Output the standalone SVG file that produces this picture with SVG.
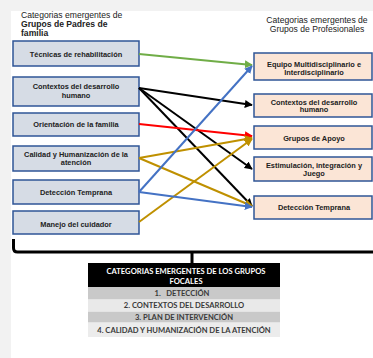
<svg xmlns="http://www.w3.org/2000/svg" width="373" height="358" viewBox="0 0 373 358">
<style>
.lb{fill:#d6dce5;stroke:#2f5597;stroke-width:1.5}
.rb{fill:#fbe5d6;stroke:#2f5597;stroke-width:1.5}
.t{font-family:"Liberation Sans",Arial,sans-serif;font-size:7.4px;font-weight:bold;fill:#222;text-anchor:middle}
.h{font-family:"Liberation Sans",Arial,sans-serif;font-size:8.6px;fill:#222}
.c{fill:none;stroke-width:2}
.tb{font-family:Lato,"Open Sans",sans-serif;font-size:7.6px;font-weight:bold;fill:#3a3a3a;text-anchor:middle}
.tw{fill:#fff}
</style>
<defs>
<marker id="mg" viewBox="0 0 10 10" refX="9" refY="5" markerWidth="4" markerHeight="4" orient="auto" markerUnits="strokeWidth"><path d="M0,0 L10,5 L0,10 z" fill="#70ad47"/></marker>
<marker id="mk" viewBox="0 0 10 10" refX="9" refY="5" markerWidth="4" markerHeight="4" orient="auto" markerUnits="strokeWidth"><path d="M0,0 L10,5 L0,10 z" fill="#000"/></marker>
<marker id="mr" viewBox="0 0 10 10" refX="9" refY="5" markerWidth="4" markerHeight="4" orient="auto" markerUnits="strokeWidth"><path d="M0,0 L10,5 L0,10 z" fill="#ff0000"/></marker>
<marker id="my" viewBox="0 0 10 10" refX="9" refY="5" markerWidth="4" markerHeight="4" orient="auto" markerUnits="strokeWidth"><path d="M0,0 L10,5 L0,10 z" fill="#bf9000"/></marker>
<marker id="mb" viewBox="0 0 10 10" refX="9" refY="5" markerWidth="4" markerHeight="4" orient="auto" markerUnits="strokeWidth"><path d="M0,0 L10,5 L0,10 z" fill="#4472c4"/></marker>
</defs>
<rect x="0" y="0" width="373" height="358" fill="#f2f2f2"/>
<rect x="11" y="11" width="362" height="347" fill="#ffffff"/>

<g id="title-left">
<text class="h" x="21" y="18">Categorias  emergentes  de</text>
<text class="h" x="21" y="27" font-weight="bold">Grupos de Padres  de</text>
<text class="h" x="21" y="36" font-weight="bold">familia</text>
</g>
<g id="title-right">
<text class="h" x="317" y="23" text-anchor="middle">Categorias  emergentes  de</text>
<text class="h" x="317" y="32" text-anchor="middle">Grupos de Profesionales</text>
</g>

<g id="L1"><rect class="lb" x="13" y="41" width="126" height="25"/><text class="t" x="76" y="56.5">Técnicas de rehabilitación</text></g>
<g id="L2"><rect class="lb" x="13" y="77" width="126" height="29"/><text class="t" x="76" y="89">Contextos del desarrollo</text><text class="t" x="76" y="98">humano</text></g>
<g id="L3"><rect class="lb" x="13" y="113" width="126" height="23"/><text class="t" x="76" y="127">Orientación de la familia</text></g>
<g id="L4"><rect class="lb" x="13" y="146" width="126" height="25"/><text class="t" x="76" y="156.5">Calidad y Humanización de la</text><text class="t" x="76" y="165">atención</text></g>
<g id="L5"><rect class="lb" x="13" y="180" width="126" height="24"/><text class="t" x="76" y="194.5">Detección Temprana</text></g>
<g id="L6"><rect class="lb" x="13" y="211" width="126" height="23"/><text class="t" x="76" y="226.5">Manejo del cuidador</text></g>

<g id="R1"><rect class="rb" x="254" y="53" width="118" height="27"/><text class="t" x="314" y="66.5">Equipo Multidisciplinario e</text><text class="t" x="314" y="74.5">Interdisciplinario</text></g>
<g id="R2"><rect class="rb" x="254" y="94" width="118" height="23"/><text class="t" x="314" y="104.5">Contextos del desarrollo</text><text class="t" x="314" y="112">humano</text></g>
<g id="R3"><rect class="rb" x="254" y="126" width="118" height="23"/><text class="t" x="314" y="141">Grupos de Apoyo</text></g>
<g id="R4"><rect class="rb" x="254" y="157" width="118" height="24"/><text class="t" x="314" y="167.5">Estimulación, integración y</text><text class="t" x="314" y="175.5">Juego</text></g>
<g id="R5"><rect class="rb" x="254" y="196" width="118" height="23"/><text class="t" x="314" y="210">Detección Temprana</text></g>

<g id="connectors">
<path class="c" stroke="#70ad47" d="M139,54 L252,65" marker-end="url(#mg)"/>
<path class="c" stroke="#000" d="M139,88 L252,105" marker-end="url(#mk)"/>
<path class="c" stroke="#000" d="M139,88 L252,169" marker-end="url(#mk)"/>
<path class="c" stroke="#000" d="M139,88 L252,206" marker-end="url(#mk)"/>
<path class="c" stroke="#ff0000" d="M139,124 L252,136" marker-end="url(#mr)"/>
<path class="c" stroke="#bf9000" d="M139,158 L252,138" marker-end="url(#my)"/>
<path class="c" stroke="#bf9000" d="M139,158 L252,206" marker-end="url(#my)"/>
<path class="c" stroke="#bf9000" d="M139,222 L252,139" marker-end="url(#my)"/>
<path class="c" stroke="#4472c4" d="M139,192 L252,66" marker-end="url(#mb)"/>
<path class="c" stroke="#4472c4" d="M139,192 L252,207" marker-end="url(#mb)"/>
<path fill="none" stroke="#000" stroke-width="3" d="M13.5,239 L13.5,248 Q13.5,252 17.5,252 L373,252 M192,252 L192,263"/>
</g>

<g id="table">
<rect x="88" y="263" width="192" height="24" fill="#000"/>
<text class="tb tw" x="186" y="274">CATEGORIAS EMERGENTES DE LOS GRUPOS</text>
<text class="tb tw" x="186" y="283.5">FOCALES</text>
<rect x="88" y="287" width="192" height="12.5" fill="#c9c9c9"/>
<rect x="88" y="300" width="192" height="11" fill="#e9e9e9"/>
<rect x="88" y="311.5" width="192" height="11" fill="#c9c9c9"/>
<rect x="88" y="323" width="192" height="14" fill="#ececec"/>
<text class="tb" x="182" y="296" xml:space="preserve" style="white-space:pre">1.   DETECCIÓN</text>
<text class="tb" x="184" y="308">2. CONTEXTOS DEL DESARROLLO</text>
<text class="tb" x="184" y="319.5">3. PLAN DE INTERVENCIÓN</text>
<text class="tb" x="184" y="332.5">4. CALIDAD Y HUMANIZACIÓN DE LA ATENCIÓN</text>
</g>
</svg>
